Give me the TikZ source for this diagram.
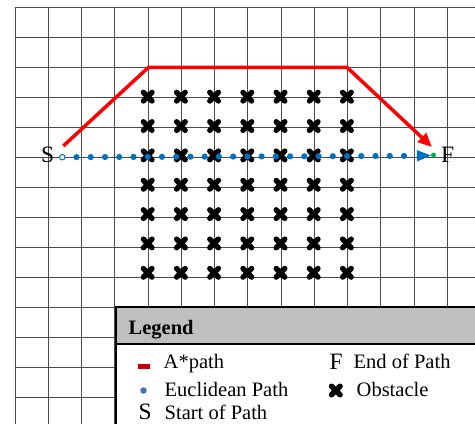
\documentclass[tikz,border=0pt]{standalone}
\usepackage{fontspec}
\setmainfont{Liberation Serif}
\usetikzlibrary{arrows.meta,calc}
\definecolor{gridc}{RGB}{75,75,75}
\definecolor{apath}{RGB}{255,0,0}
\definecolor{eblue}{RGB}{0,112,192}
\definecolor{lgray}{RGB}{191,191,191}
\definecolor{gdot}{RGB}{0,176,80}
\definecolor{legred}{RGB}{200,0,0}
\definecolor{legblue}{RGB}{68,114,196}
\tikzset{
  gridline/.style={draw=gridc, line width=1pt},
  astar/.style={draw=apath, line width=3.5pt},
  edot/.style={fill=eblue},
  obst/.pic={\draw[line width=5.4pt, line cap=round] (-4.3,-4.3)--(4.3,4.3) (-4.3,4.3)--(4.3,-4.3);},
  lbl/.style={font=\fontsize{20.5}{24}\selectfont, inner sep=0pt, anchor=base west},
  big/.style={font=\fontsize{23.5}{28}\selectfont, inner sep=0pt, anchor=base west},
}
\begin{document}
\begin{tikzpicture}[x=1pt,y=-1pt]
\useasboundingbox (0,0) rectangle (475,424);
\begin{scope}
  \clip (0,0) rectangle (475,424);
  \foreach \k in {0,...,14} \draw[gridline] ({15+33.25*\k},7.3) -- ({15+33.25*\k},430);
  \foreach \k in {0,...,14} \draw[gridline] (14.5,{7.3+30*\k}) -- (480,{7.3+30*\k});
  % legend box
  \filldraw[fill=white, draw=black, line width=2pt] (116,306.7) rectangle (490,440);
  \filldraw[fill=lgray, draw=black, line width=1.2pt] (116,306.7) rectangle (490,344);
  \draw[black, line width=2pt] (116,440) -- (116,306.7) -- (490,306.7);
\end{scope}

% A* path
\coordinate (a1) at (63.3,146);
\coordinate (a2) at (148.5,67.3);
\coordinate (a3) at (347,67.3);
\coordinate (a4) at (432,147);
\draw[astar, -{Triangle[length=14pt,width=12pt]}] (a1) -- (a2) -- (a3) -- (a4);

% obstacles
\foreach \i in {0,...,6}
  \foreach \j in {0,...,6}
    \pic at ({147.7+33.2*\i},{96.7+29.35*\j}) {obst};

% Euclidean path
\coordinate (sp) at (62.3,157.2);
\coordinate (dl) at (404,155.9);
\coordinate (ab) at (417,155.8);
\coordinate (ep) at (431,155.5);
\foreach \t in {1,...,24} \fill[edot] ($(sp)!\t/24!(dl)$) circle (3.1);
\draw[eblue, line width=1pt, -{Triangle[length=14pt,width=11pt]}] (ab) -- (ep);
\node[circle, draw=eblue, fill=white, line width=1pt, inner sep=0pt, minimum size=5.5pt] (sc) at (sp) {};
\node[circle, fill=gdot, inner sep=0pt, minimum size=5pt] (fc) at (433.5,155) {};
\node[big] (S) at (41,162.7) {S};
\node[big] (F) at (441,162.7) {F};

% legend contents
\node[lbl, font=\bfseries\fontsize{20.5}{24}\selectfont] (lg) at (128.5,334) {Legend};
\node[fill=legred, minimum width=12pt, minimum height=5pt, inner sep=0pt] (k1) at (144,366) {};
\node[lbl] (t1) at (163.5,368) {A*path};
\node[circle, fill=legblue, minimum size=6.5pt, inner sep=0pt] (k2) at (143.5,390.5) {};
\node[lbl] (t2) at (164.5,396.5) {Euclidean Path};
\node[big] (k3) at (138.5,419.5) {S};
\node[lbl] (t3) at (164.5,419.2) {Start of Path};
\node[big] (k4) at (329.5,369.5) {F};
\node[lbl] (t4) at (353.5,368.3) {End of Path};
\pic at (335.8,390.5) {obst};
\node[lbl] (t5) at (356.5,396) {Obstacle};
\end{tikzpicture}
\end{document}
